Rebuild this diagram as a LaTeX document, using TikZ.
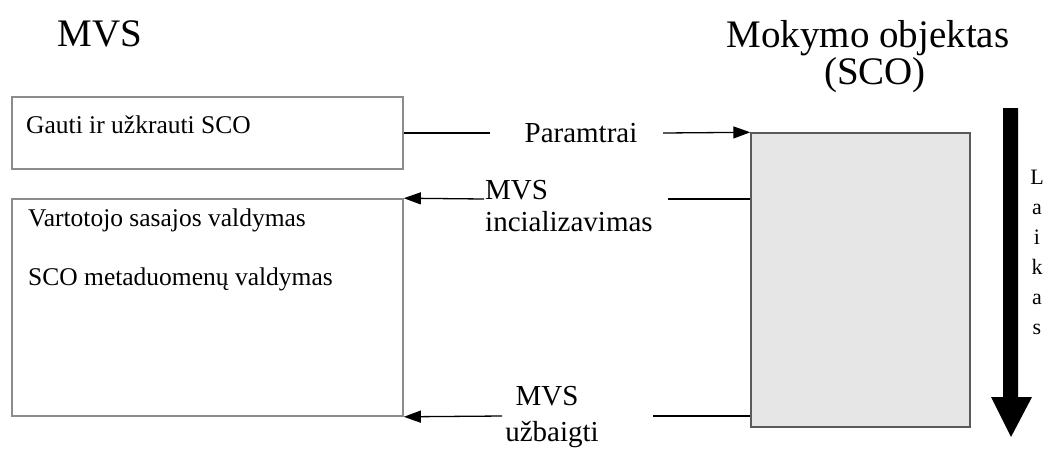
\documentclass[tikz,border=0pt]{standalone}
\usepackage{fontspec}
\setmainfont{Liberation Serif}
\usetikzlibrary{arrows.meta}
\definecolor{boxgray}{RGB}{140,140,140}
\definecolor{scoline}{RGB}{90,90,90}
\definecolor{scofill}{RGB}{230,230,230}
\begin{document}
\begin{tikzpicture}[x=1pt,y=-1pt,
  box/.style={draw=boxgray, line width=1.6pt, inner sep=0pt},
  scobox/.style={draw=scoline, fill=scofill, line width=1.4pt, inner sep=0pt},
  boxtxt/.style={inner sep=0pt, font=\fontsize{25.5}{30}\selectfont},
  lbl/.style={inner sep=0pt, font=\fontsize{29}{34}\selectfont},
  ttl/.style={inner sep=0pt, font=\fontsize{39}{44}\selectfont},
  arr/.style={line width=1.3pt, -{Triangle[length=17pt,width=12pt]}},
  plain/.style={line width=1.3pt}
]
\useasboundingbox (0,0) rectangle (1048,448);
\fill[white] (0,0) rectangle (1048,448);

% titles
\node[ttl, anchor=base] (tmvs) at (100,46) {MVS};
\node[ttl, anchor=base] (tsco1) at (868,47) {Mokymo objektas};
\node[ttl, anchor=base] (tsco2) at (875,84) {(SCO)};

% boxes
\node[box, minimum width=391pt, minimum height=72pt] (b1) at (207.5,133) {};
\node[box, minimum width=391pt, minimum height=217pt] (b2) at (207.5,307.5) {};
\node[scobox, minimum width=219pt, minimum height=294pt] (sco) at (860.5,280) {};

% box texts
\node[boxtxt, anchor=base west] (t1) at (26,133) {Gauti ir užkrauti SCO};
\node[boxtxt, anchor=base west] (t2) at (28,226) {Vartotojo sasajos valdymas};
\node[boxtxt, anchor=base west] (t3) at (28,285) {SCO metaduomenų valdymas};

% labels
\node[lbl, anchor=base] (par) at (581,142) {Paramtrai};
\node[lbl, anchor=base west] (ini1) at (485,199) {MVS};
\node[lbl, anchor=base west] (ini2) at (485,231) {incializavimas};
\node[lbl, anchor=base] (end1) at (547,405) {MVS};
\node[lbl, anchor=base] (end2) at (552,441) {užbaigti};

% connector ends
\coordinate (parL) at (490,133);
\coordinate (parR) at (663,133);
\coordinate (iniL) at (484,199);
\coordinate (iniR) at (668,199);
\coordinate (endL) at (502,416);
\coordinate (endR) at (653,416);

\draw[plain] (b1.east) -- (parL);
\draw[arr] (parR) -- (sco.north west);
\draw[arr] (iniL) -- (b2.north east);
\draw[plain] (iniR) -- (iniR -| sco.west);
\draw[arr] (endL) -- (b2.south east);
\draw[plain] (endR) -- (endR -| sco.west);

% time arrow
\fill[black] (1003,108) -- (1018,108) -- (1018,397) -- (1032,397) -- (1011,437) -- (991,397) -- (1003,397) -- cycle;
\node[inner sep=0pt, font=\fontsize{22}{30}\selectfont, align=center, anchor=north] (laikas) at (1037,170) {L\\a\\i\\k\\a\\s};
\end{tikzpicture}
\end{document}
